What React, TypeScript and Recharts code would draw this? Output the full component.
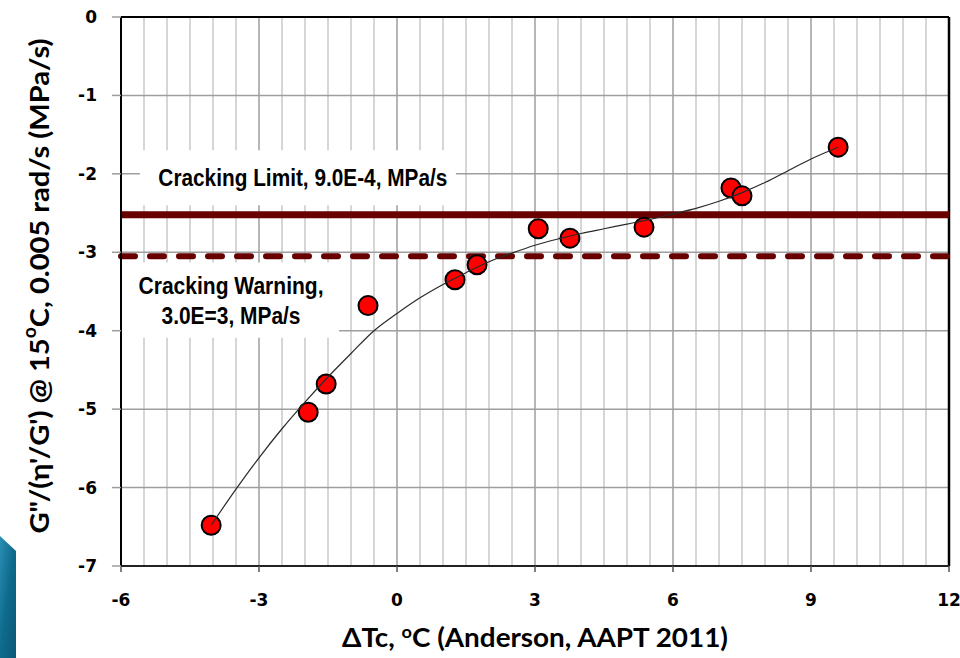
import { ComposedChart, CartesianGrid, XAxis, YAxis, Scatter, Line, ReferenceLine, ReferenceArea } from 'recharts'

// measured binders: ΔTc vs log10 of G''/(η'/G')
const deltaTc = [-4.04, -1.93, -1.54, -0.63, 1.26, 1.74, 3.07, 3.76, 5.37, 7.26, 7.5, 9.59]
const logRate = [-6.48, -5.04, -4.68, -3.68, -3.35, -3.16, -2.7, -2.82, -2.68, -2.18, -2.28, -1.66]

// polynomial trend through the binders
const trendTc = [-4.04, -3.5, -3, -2.5, -2, -1.5, -1, -0.5, 0, 0.5, 1, 1.5, 2, 2.5, 3, 3.5, 4, 4.5, 5, 5.5, 6, 6.5, 7, 7.5, 8, 8.5, 9, 9.59]
const trendRate = [-6.48, -6.02, -5.62, -5.25, -4.91, -4.59, -4.29, -4.0, -3.78, -3.58, -3.41, -3.26, -3.12, -3.01, -2.91, -2.83, -2.76, -2.7, -2.64, -2.58, -2.51, -2.44, -2.35, -2.24, -2.11, -1.96, -1.81, -1.66]

const xTicks = [-6, -3, 0, 3, 6, 9, 12]
const yTicks = [0, -1, -2, -3, -4, -5, -6, -7]

const limitLevel = -2.52
const warningLevel = -3.05
const limitText = 'Cracking Limit, 9.0E-4, MPa/s'
const warningText = ['Cracking Warning,', '3.0E=3, MPa/s']

const points = deltaTc.map((x, i) => ({ x, y: logRate[i] }))
const trend = trendTc.map((x, i) => ({ x, y: trendRate[i] }))

// half-degree vertical grid, heavier on the labelled ticks
const xMinor = Array.from({ length: 35 }, (_, i) => -5.5 + i * 0.5).filter((v) => v % 3 !== 0)
const xMajor = [-3, 0, 3, 6, 9]
const yGrid = [-1, -2, -3, -4, -5, -6]

const maroon = '#680000'
const tickFont = { fontFamily: '"DejaVu Sans", Verdana, sans-serif', fontWeight: 700, fontSize: 17, fill: '#000' }
const noteFont = { fontFamily: '"Liberation Sans Narrow", "Arial Narrow", "Liberation Sans", sans-serif', fontWeight: 700, fontSize: 23, fill: '#000' }
const titleFont = { fontFamily: 'Lato, Calibri, sans-serif', fontWeight: 700, fill: '#000' }

const RedDot = (props: any) => (
  <circle cx={props.cx} cy={props.cy} r={9.5} fill="#ff0000" stroke="#000" strokeWidth={2} />
)

const YTick = (props: any) => (
  <text x={props.x} y={props.y} textAnchor="end" dominantBaseline="central" {...tickFont}>
    {props.payload.value}
  </text>
)

const XTick = (props: any) => (
  <text x={props.x} y={props.y} textAnchor="middle" dominantBaseline="central" {...tickFont}>
    {props.payload.value}
  </text>
)

const LimitNote = (props: any) => {
  const { x, y, width, height } = props.viewBox
  return (
    <text x={x + width / 2 + 5} y={y + height / 2} textAnchor="middle" dominantBaseline="central"
      textLength={289} lengthAdjust="spacingAndGlyphs" {...noteFont}>
      {limitText}
    </text>
  )
}

const WarningNote = (props: any) => {
  const { x, y, width, height } = props.viewBox
  const cx = x + width / 2 + 1
  const cy = y + height / 2
  return (
    <g>
      <text x={cx} y={cy - 14} textAnchor="middle" dominantBaseline="central"
        textLength={185} lengthAdjust="spacingAndGlyphs" {...noteFont}>
        {warningText[0]}
      </text>
      <text x={cx} y={cy + 16} textAnchor="middle" dominantBaseline="central"
        textLength={139} lengthAdjust="spacingAndGlyphs" {...noteFont}>
        {warningText[1]}
      </text>
    </g>
  )
}

const XTitle = () => (
  <text x={535} y={647} textAnchor="middle" fontSize={26} textLength={386} lengthAdjust="spacingAndGlyphs" {...titleFont}>
    ΔTc, <tspan fontSize={17} dy={-9}>o</tspan><tspan dy={9}>C (Anderson, AAPT 2011)</tspan>
  </text>
)

const YTitle = () => (
  <text transform="translate(38,286) rotate(-90)" textAnchor="middle" dominantBaseline="central" fontSize={27}
    textLength={495} lengthAdjust="spacingAndGlyphs" {...titleFont}>
    G"/(η'/G') @ 15<tspan fontSize={18} dy={-9}>o</tspan><tspan dy={9}>C, 0.005 rad/s (MPa/s)</tspan>
  </text>
)

export default function App() {
  return (
    <div style={{ position: 'absolute', left: 0, top: 0, width: 960, height: 658, background: '#fff' }}>
      <ComposedChart width={960} height={658} margin={{ top: 17, right: 11, bottom: 0, left: 0 }}>
        <CartesianGrid horizontal={false} verticalValues={xMinor} stroke="#c8c8c8" strokeWidth={1.5} />
        <CartesianGrid verticalValues={xMajor} horizontalValues={yGrid} stroke="#9e9e9e" strokeWidth={1.5} />
        <ReferenceLine y={0} stroke="#000" strokeWidth={2} />
        <ReferenceLine x={12} stroke="#000" strokeWidth={2.5} />

        <ReferenceArea x1={-5.59} x2={1.28} y1={-1.7} y2={-2.4} fill="#fff" fillOpacity={1} stroke="none"
          label={<LimitNote />} />
        <ReferenceArea x1={-6} x2={-1.26} y1={-3.13} y2={-4.09} fill="#fff" fillOpacity={1} stroke="none"
          label={<WarningNote />} />

        <ReferenceLine y={limitLevel} stroke={maroon} strokeWidth={7} />
        <ReferenceLine y={warningLevel} stroke={maroon} strokeWidth={6} strokeDasharray="14 15" strokeLinecap="round" />

        <XAxis type="number" dataKey="x" domain={[-6, 12]} ticks={xTicks} interval={0} height={92}
          axisLine={{ stroke: '#222', strokeWidth: 2 }} tickLine={{ stroke: '#555', strokeWidth: 1.5 }}
          tickSize={6} tickMargin={28} tick={<XTick />} label={<XTitle />} />
        <YAxis type="number" dataKey="y" domain={[-7, 0]} ticks={yTicks} interval={0} width={121}
          axisLine={{ stroke: '#000', strokeWidth: 2 }} tickLine={{ stroke: '#9c9c9c', strokeWidth: 1.5 }}
          tickSize={9} tickMargin={15} tick={<YTick />} label={<YTitle />} />

        <Scatter data={points} dataKey="y" shape={<RedDot />} isAnimationActive={false} />
        <Line data={trend} dataKey="y" type="monotone" stroke="#2a2a2a" strokeWidth={1.2} dot={false}
          activeDot={false} isAnimationActive={false} zIndex={700} />
      </ComposedChart>
      <svg width={20} height={140} style={{ position: 'absolute', left: 0, top: 518 }}>
        <defs>
          <linearGradient id="cornerFill" x1="0" y1="0" x2="1" y2="1">
            <stop offset="0" stopColor="#2a8fb5" />
            <stop offset="0.5" stopColor="#0e6a8c" />
            <stop offset="1" stopColor="#0b5876" />
          </linearGradient>
        </defs>
        <polygon points="0,18 16,33 16,140 0,140" fill="url(#cornerFill)" />
      </svg>
    </div>
  )
}
